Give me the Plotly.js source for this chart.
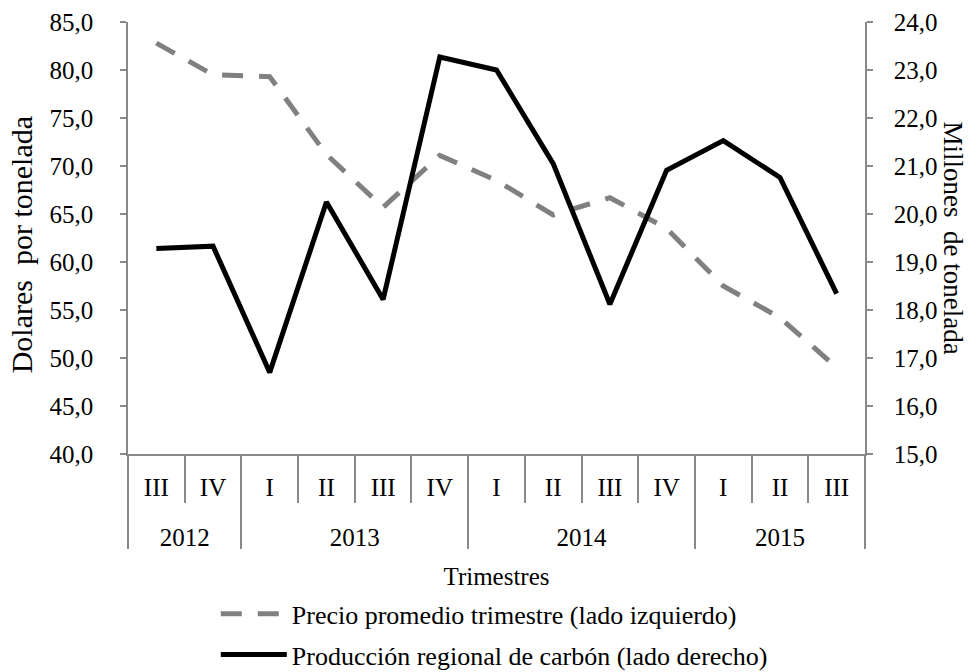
<!DOCTYPE html>
<html><head><meta charset="utf-8">
<script src="https://cdn.plot.ly/plotly-3.0.1.min.js"></script>
<style>html,body{margin:0;padding:0;background:#fff}#chart{width:972px;height:672px}</style>
</head><body><div id="chart"></div>
<script>
const years = ['2012','2012','2013','2013','2013','2013','2014','2014','2014','2014','2015','2015','2015'];
const quarters = ['III','IV','I','II','III','IV','I','II','III','IV','I','II','III'];
const precio = [82.8, 79.5, 79.3, 71.2, 65.7, 71.1, 68.5, 64.9, 66.7, 63.5, 57.5, 54.2, 49.0];
const produccion = [19.28, 19.33, 16.7, 20.25, 18.22, 23.27, 23.0, 21.05, 18.12, 20.91, 21.53, 20.76, 18.34];
const nombrePrecio = 'Precio promedio trimestre (lado izquierdo)';
const nombreProd = 'Producción regional de carbón (lado derecho)';
const tituloIzq = 'Dolares&nbsp; por tonelada';
const tituloDer = 'Millones&nbsp; de tonelada';
const tituloX = 'Trimestres';

const FONT = 'Liberation Serif, Times New Roman, serif';
const AX = '#898989';

// category positions (index of each quarter) and group structure derived from the arrays
const idx = quarters.map((q, i) => i);
const qBounds = idx.map(i => i - 0.5).concat([quarters.length - 0.5]);
const yearNames = [], yearCenters = [], yBounds = [-0.5];
years.forEach((y, i) => {
  if (i === 0 || years[i - 1] !== y) {
    if (i > 0) yBounds.push(i - 0.5);
    yearNames.push(y);
  }
});
yBounds.push(years.length - 0.5);
yearNames.forEach(y => {
  const ii = idx.filter(i => years[i] === y);
  yearCenters.push((ii[0] + ii[ii.length - 1]) / 2);
});
const xr = [-0.5, quarters.length - 0.5];

const traces = [
  {x: idx, y: precio, type: 'scatter', mode: 'lines', name: nombrePrecio,
   legendgroup: 'a', line: {color: '#808080', width: 5, dash: '21px,16px'}, xaxis: 'x', yaxis: 'y'},
  {x: idx, y: produccion, type: 'scatter', mode: 'lines', name: nombreProd,
   legendgroup: 'b', line: {color: '#000000', width: 5}, xaxis: 'x', yaxis: 'y2'},
  // empty carrier so that the year-level axis is drawn
  {x: [], y: [], type: 'scatter', mode: 'lines', xaxis: 'x2', yaxis: 'y',
   showlegend: false, hoverinfo: 'skip'}
];

const layout = {
  width: 972, height: 672,
  margin: {l: 128, r: 107, t: 22, b: 218, autoexpand: false},
  paper_bgcolor: '#fff', plot_bgcolor: '#fff',
  separators: ',.',
  font: {family: FONT, size: 25, color: '#000'},
  showlegend: true,
  legend: {xref: 'container', yref: 'container', x: 0.222, xanchor: 'left', y: 0.1216, yanchor: 'top',
           orientation: 'v', traceorder: 'grouped', tracegroupgap: 4, itemwidth: 66,
           font: {family: FONT, size: 26, color: '#000'}, bgcolor: 'rgba(0,0,0,0)'},
  xaxis: {type: 'linear', range: xr, automargin: false,
          tickmode: 'array', tickvals: idx, ticktext: quarters, ticks: '',
          showline: true, linecolor: AX, linewidth: 1.5,
          ticklabelstandoff: 10,
          minor: {tickmode: 'array', tickvals: qBounds, ticks: 'outside', ticklen: 47,
                  tickcolor: AX, tickwidth: 1.5, showgrid: false},
          showgrid: false, zeroline: false, fixedrange: true,
          tickfont: {family: FONT, size: 25, color: '#000'}},
  xaxis2: {type: 'linear', range: xr, overlaying: 'x', anchor: 'y', side: 'bottom', automargin: false,
           tickmode: 'array', tickvals: yearCenters, ticktext: yearNames, ticks: '',
           showline: false, ticklabelstandoff: 66,
           minor: {tickmode: 'array', tickvals: yBounds, ticks: 'outside', ticklen: 94,
                   tickcolor: AX, tickwidth: 1.5, showgrid: false},
           showgrid: false, zeroline: false, fixedrange: true,
           tickfont: {family: FONT, size: 25, color: '#000'},
           title: {text: tituloX, font: {family: FONT, size: 25, color: '#000'}, standoff: 17}},
  yaxis: {range: [40, 85], dtick: 5, tickformat: '.1f', showline: true, linecolor: AX, linewidth: 1.5,
          ticks: 'outside', ticklen: 6, tickcolor: AX, tickwidth: 1.5, ticklabelstandoff: 22,
          showgrid: false, zeroline: false, automargin: false, fixedrange: true,
          tickfont: {family: FONT, size: 25, color: '#000'}},
  yaxis2: {range: [15, 24], dtick: 1, tickformat: '.1f', overlaying: 'y', side: 'right',
           showline: true, linecolor: AX, linewidth: 1.5, automargin: false, fixedrange: true,
           ticks: 'outside', ticklen: 6, tickcolor: AX, tickwidth: 1.5, ticklabelstandoff: 16,
           showgrid: false, zeroline: false,
           tickfont: {family: FONT, size: 25, color: '#000'}},
  annotations: [
    {text: tituloIzq, xref: 'paper', yref: 'paper', x: -0.144, y: 0.485,
     xanchor: 'center', yanchor: 'middle', textangle: -90, showarrow: false,
     font: {family: FONT, size: 30, color: '#000'}},
    {text: tituloDer, xref: 'paper', yref: 'paper', x: 1.12, y: 0.5,
     xanchor: 'center', yanchor: 'middle', textangle: 90, showarrow: false,
     font: {family: FONT, size: 27, color: '#000'}}
  ]
};

Plotly.newPlot('chart', traces, layout, {displayModeBar: false, responsive: false});
</script>
</body></html>
